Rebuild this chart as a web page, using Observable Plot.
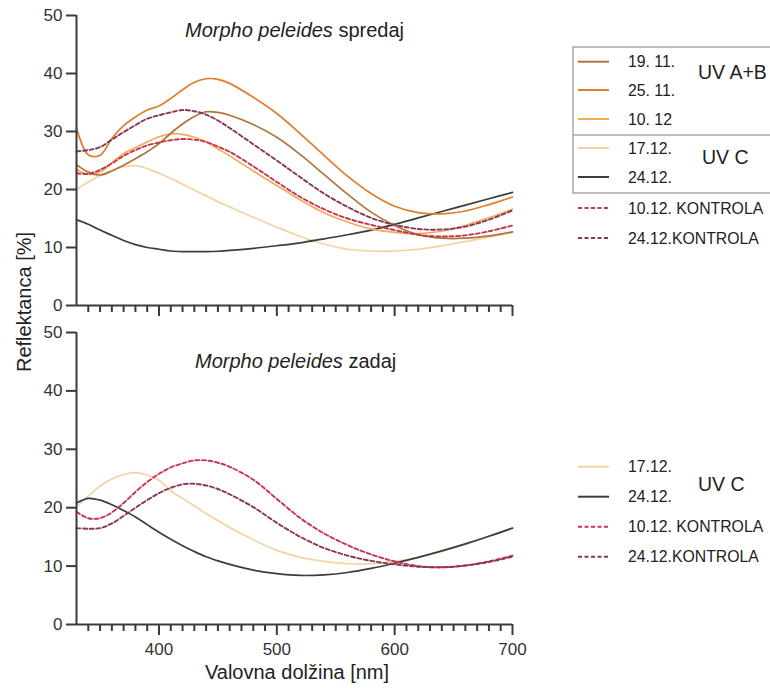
<!DOCTYPE html>
<html>
<head>
<meta charset="utf-8">
<script src="https://cdn.jsdelivr.net/npm/d3@7"></script>
<script src="https://cdn.jsdelivr.net/npm/@observablehq/plot@0.6"></script>
<style>
  html, body { margin: 0; padding: 0; background: #fff; }
  #chart { position: relative; width: 770px; height: 689px; overflow: hidden; background: #fff; font-family: "Liberation Sans", Arial, sans-serif; }
  #chart svg { position: absolute; left: 0; }
</style>
</head>
<body>
<div id="chart"></div>
<script>
// ---------- data ----------
const wavelengths = [330,340,350,360,370,380,390,400,410,420,430,440,450,460,480,500,520,540,560,580,600,620,640,660,680,700];

// Top panel: Morpho peleides spredaj
const front_1911  = [24.3,23.0,22.5,23.2,24.2,25.3,26.5,27.9,29.7,31.3,32.6,33.4,33.3,32.8,31.2,29.0,26.0,22.6,19.2,16.1,13.8,12.2,11.6,11.6,12.0,12.7];
const front_2511  = [30.6,26.0,25.9,28.8,31.0,32.5,33.7,34.4,35.7,37.2,38.5,39.1,39.0,38.3,35.9,33.1,29.6,25.9,22.3,19.3,17.1,16.0,15.8,16.3,17.4,18.7];
const front_1012  = [23.5,22.6,23.0,24.6,26.2,27.2,28.2,29.1,29.6,29.5,29.0,28.2,27.0,25.8,23.2,20.7,18.2,16.0,14.4,13.2,12.6,12.4,12.8,13.8,15.1,16.6];
const front_1712  = [20.0,21.3,22.4,23.3,23.9,24.1,23.6,22.8,21.9,20.9,19.9,18.9,17.9,17.0,15.2,13.5,11.9,10.6,9.7,9.4,9.4,9.7,10.3,11.0,11.8,12.6];
const front_2412  = [14.8,14.0,13.0,12.1,11.2,10.5,10.0,9.7,9.4,9.3,9.3,9.3,9.35,9.5,9.85,10.3,10.8,11.5,12.2,13.0,14.0,15.1,16.2,17.3,18.4,19.5];
const front_1012K = [22.8,22.7,23.4,24.5,25.8,26.8,27.6,28.1,28.5,28.7,28.6,28.2,27.4,26.5,24.0,21.3,18.7,16.6,15.0,13.9,13.0,12.2,11.9,12.1,12.8,13.8];
const front_2412K = [26.6,26.8,27.3,28.6,29.9,31.1,32.2,32.8,33.3,33.7,33.5,32.9,31.9,30.6,27.8,25.0,22.1,19.3,17.0,15.1,13.9,13.2,13.1,13.6,14.8,16.4];

// Bottom panel: Morpho peleides zadaj
const back_1712  = [20.2,22.0,23.7,24.9,25.7,26.0,25.6,24.7,22.9,21.6,20.3,19.0,17.8,16.6,14.5,12.7,11.5,10.8,10.4,10.4,10.8,11.5,12.5,13.7,15.1,16.5];
const back_2412  = [20.8,21.6,21.3,20.5,19.5,18.4,17.1,15.8,14.6,13.5,12.5,11.6,10.9,10.3,9.3,8.7,8.4,8.5,8.9,9.6,10.5,11.5,12.6,13.8,15.1,16.5];
const back_1012K = [19.3,18.2,18.2,19.2,20.8,22.7,24.4,25.8,26.9,27.6,28.1,28.1,27.7,27.0,24.8,21.5,18.2,15.6,13.6,12.0,10.8,10.0,9.8,10.1,10.8,11.8];
const back_2412K = [16.5,16.4,16.5,17.3,18.6,20.0,21.3,22.5,23.4,24.0,24.1,23.8,23.2,22.3,20.1,17.4,15.0,13.1,11.8,10.9,10.3,9.9,9.8,10.1,10.7,11.6];

const seriesNames = ["19. 11.", "25. 11.", "10. 12", "17.12.", "24.12.", "10.12. KONTROLA", "24.12.KONTROLA"];
const seriesColors = ["#b0753c", "#e07d2c", "#f0aa58", "#f4d3a2", "#3c3c3c", "#c8344c", "#8a3557"];
const seriesDashed = [false, false, false, false, false, true, true];

const yTicks = [0, 10, 20, 30, 40, 50];
const xMajorTicks = [400, 500, 600, 700];
const xMinorTicks = [340,350,360,370,380,390,410,420,430,440,450,460,470,480,490,510,520,530,540,550,560,570,580,590,610,620,630,640,650,660,670,680,690];

const axisTitleX = "Valovna dolžina [nm]";
const axisTitleY = "Reflektanca [%]";
const panelSpecies = "Morpho peleides";
const panelSides = ["spredaj", "zadaj"];
const groupLabels = ["UV A+B", "UV C"];

// ---------- helpers ----------
const toRows = (vals) => wavelengths.map((w, i) => ({wl: w, r: vals[i]}));
const FONT = "'Liberation Sans', Arial, sans-serif";
const AXIS = "#3a3a3a";

function panel({series, height, marginTop, marginBottom, showLabels}) {
  const marks = [];
  for (const s of series) {
    const idx = seriesNames.indexOf(s.name);
    marks.push(Plot.line(toRows(s.values), {
      x: "wl", y: "r",
      stroke: seriesColors[idx],
      strokeWidth: seriesDashed[idx] ? 1.9 : 1.7,
      strokeDasharray: seriesDashed[idx] ? "4,2.6" : null,
      curve: "catmull-rom"
    }));
  }
  marks.push(Plot.ruleX([330], {stroke: AXIS, strokeWidth: 2}));
  marks.push(Plot.ruleY([0], {stroke: AXIS, strokeWidth: 2}));
  marks.push(Plot.axisY({ticks: yTicks, tickSize: 10, tickPadding: 4, stroke: AXIS, strokeWidth: 2, label: null, fill: "#333"}));
  marks.push(Plot.axisX({ticks: xMinorTicks, tickSize: 7, tickFormat: () => "", stroke: AXIS, strokeWidth: 2, label: null}));
  marks.push(Plot.axisX({ticks: xMajorTicks, tickSize: 11, tickPadding: 7, tickFormat: showLabels ? (d => String(d)) : (() => ""), stroke: AXIS, strokeWidth: 2, label: null, fill: "#333"}));
  return Plot.plot({
    width: 770, height,
    marginLeft: 76, marginRight: 258, marginTop, marginBottom,
    x: {domain: [330, 700]},
    y: {domain: [0, 50]},
    style: {fontFamily: FONT, fontSize: "17px", background: "transparent", overflow: "visible"},
    marks
  });
}

const chart = document.getElementById("chart");

const topPlot = panel({
  series: [
    {name: "17.12.", values: front_1712},
    {name: "24.12.", values: front_2412},
    {name: "10. 12", values: front_1012},
    {name: "19. 11.", values: front_1911},
    {name: "25. 11.", values: front_2511},
    {name: "10.12. KONTROLA", values: front_1012K},
    {name: "24.12.KONTROLA", values: front_2412K}
  ],
  height: 320, marginTop: 15, marginBottom: 15, showLabels: false
});
topPlot.style.top = "0px";
chart.appendChild(topPlot);

const bottomPlot = panel({
  series: [
    {name: "17.12.", values: back_1712},
    {name: "24.12.", values: back_2412},
    {name: "10.12. KONTROLA", values: back_1012K},
    {name: "24.12.KONTROLA", values: back_2412K}
  ],
  height: 369, marginTop: 12, marginBottom: 65, showLabels: true
});
bottomPlot.style.top = "320px";
chart.appendChild(bottomPlot);

// ---------- overlay: titles, axis titles, legends ----------
const ov = d3.select(chart).append("svg")
  .attr("width", 770).attr("height", 689)
  .style("top", "0px").style("pointer-events", "none")
  .attr("font-family", FONT).attr("fill", "#222");

function panelTitle(x, y, side) {
  const t = ov.append("text").attr("x", x).attr("y", y).attr("font-size", 20);
  t.append("tspan").attr("font-style", "italic").text(panelSpecies);
  t.append("tspan").text(" " + side);
}
panelTitle(185, 37, panelSides[0]);
panelTitle(195, 368, panelSides[1]);

ov.append("text").attr("x", 297).attr("y", 679).attr("text-anchor", "middle")
  .attr("font-size", 20).text(axisTitleX);
ov.append("text").attr("transform", "translate(31,302) rotate(-90)").attr("text-anchor", "middle")
  .attr("font-size", 20).text(axisTitleY);

// legend box (top)
ov.append("rect").attr("x", 573).attr("y", 47).attr("width", 220).attr("height", 146)
  .attr("fill", "none").attr("stroke", "#a8a8a8").attr("stroke-width", 1.5);
ov.append("line").attr("x1", 573).attr("x2", 790).attr("y1", 135).attr("y2", 135)
  .attr("stroke", "#a8a8a8").attr("stroke-width", 1.5);

function legendRow(name, cy) {
  const i = seriesNames.indexOf(name);
  ov.append("line").attr("x1", 578).attr("x2", 609).attr("y1", cy).attr("y2", cy)
    .attr("stroke", seriesColors[i]).attr("stroke-width", 2)
    .attr("stroke-dasharray", seriesDashed[i] ? "4,2.5" : null);
  ov.append("text").attr("x", 628).attr("y", cy + 5.7).attr("font-size", 15.8).text(name);
}
const topRows = [61.7, 90, 119, 148, 177, 208, 238];
seriesNames.forEach((n, k) => legendRow(n, topRows[k]));
ov.append("text").attr("x", 698).attr("y", 78.7).attr("font-size", 19.5).text(groupLabels[0]);
ov.append("text").attr("x", 702).attr("y", 163.7).attr("font-size", 19.5).text(groupLabels[1]);

const bottomNames = ["17.12.", "24.12.", "10.12. KONTROLA", "24.12.KONTROLA"];
const bottomRows = [466.7, 496.7, 526.7, 556.7];
bottomNames.forEach((n, k) => legendRow(n, bottomRows[k]));
ov.append("text").attr("x", 698).attr("y", 491.3).attr("font-size", 19.5).text(groupLabels[1]);
</script>
</body>
</html>
